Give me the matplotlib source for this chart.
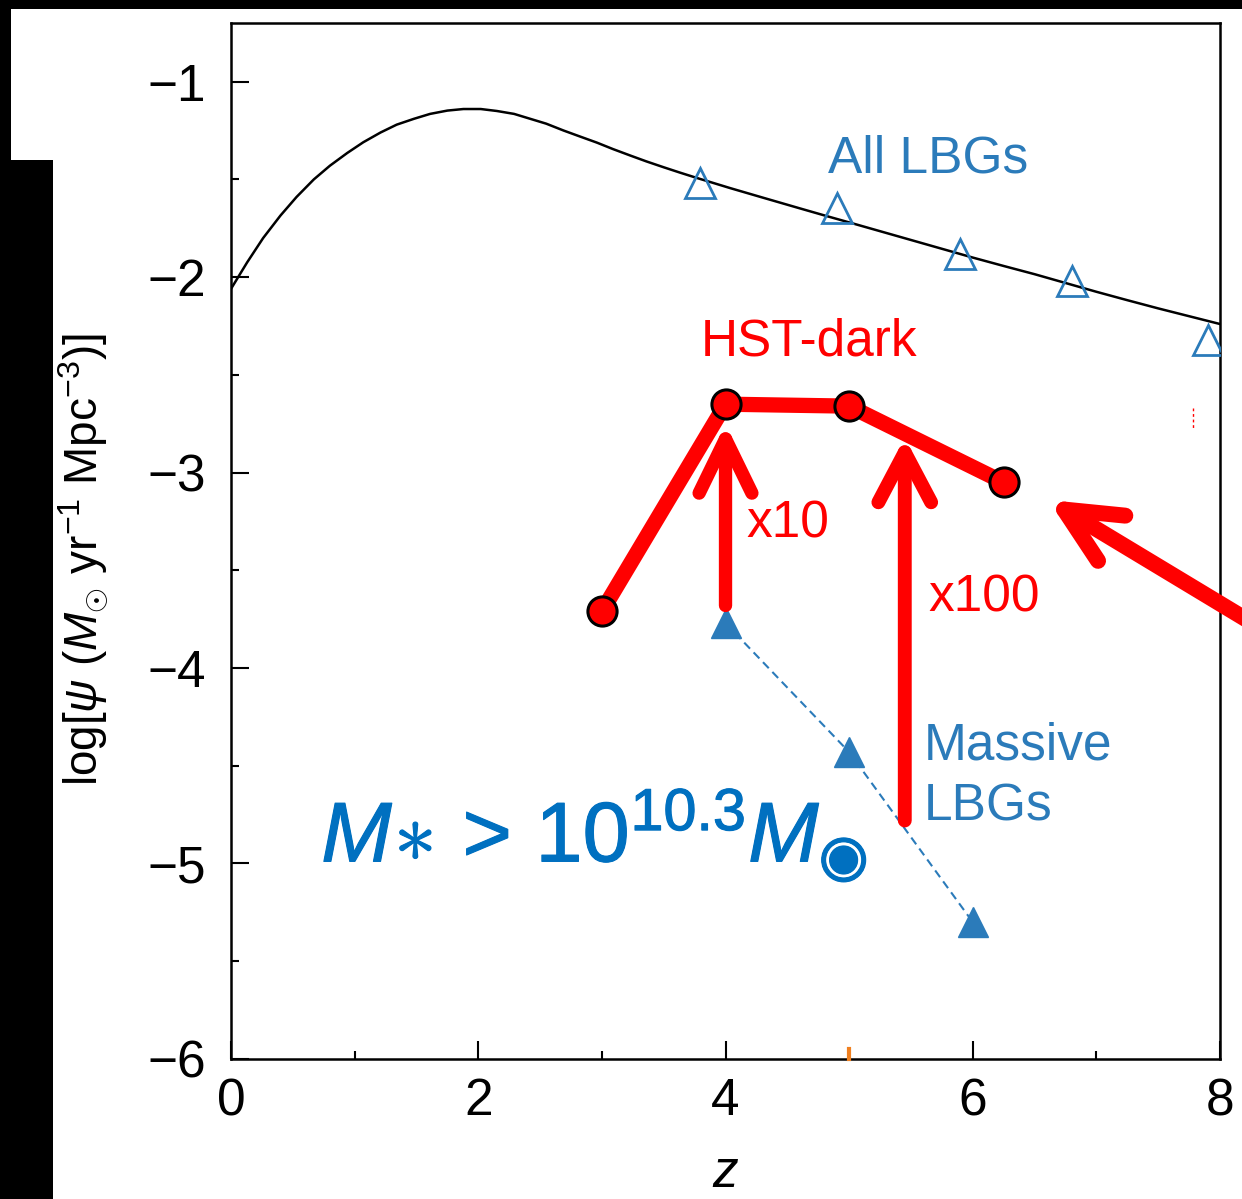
import numpy as np
import matplotlib.pyplot as plt
import matplotlib.patheffects as pe
from matplotlib.patches import Rectangle

plt.rcParams['font.family'] = ['Liberation Sans', 'DejaVu Sans']
plt.rcParams['mathtext.fontset'] = 'custom'
plt.rcParams['mathtext.rm'] = 'Liberation Sans'
plt.rcParams['mathtext.it'] = 'Liberation Sans:italic'
plt.rcParams['mathtext.bf'] = 'Liberation Sans:bold'

# cosmic SFR density curve
sfrd_z = [0.0, 0.13, 0.26, 0.40, 0.53, 0.67, 0.80, 0.94, 1.07, 1.21, 1.34, 1.48, 1.61,
          1.75, 1.88, 2.02, 2.15, 2.29, 2.42, 2.55, 2.69, 2.82, 2.96, 3.09, 3.23, 3.36,
          3.50, 3.63, 3.77, 3.90, 4.04, 4.3, 4.6, 4.82, 5.0, 5.25, 5.5, 5.75, 6.0, 6.25,
          6.5, 6.75, 7.0, 7.25, 7.5, 7.75, 8.0]
sfrd_log = [-2.06, -1.925, -1.80, -1.685, -1.59, -1.50, -1.43, -1.365, -1.31, -1.26, -1.22,
            -1.19, -1.165, -1.148, -1.14, -1.14, -1.15, -1.165, -1.19, -1.215, -1.25, -1.28,
            -1.312, -1.345, -1.378, -1.408, -1.438, -1.465, -1.493, -1.518, -1.545, -1.593,
            -1.648, -1.688, -1.72, -1.765, -1.81, -1.855, -1.90, -1.943, -1.985, -2.03,
            -2.075, -2.118, -2.16, -2.20, -2.24]

# all LBGs
lbg_z = [3.79, 4.90, 5.90, 6.80, 7.90]
lbg_log = [-1.52, -1.645, -1.88, -2.02, -2.32]

# massive LBGs
mlbg_z = [4.0, 5.0, 6.0]
mlbg_log = [-3.77, -4.43, -5.30]

# HST-dark galaxies
dark_z = [3.0, 4.0, 5.0, 6.25]
dark_log = [-3.71, -2.65, -2.66, -3.05]

# arrows: (tail, tip)
arrow_x10 = [(4.0, -3.68), (4.0, -2.75)]
arrow_x100 = [(5.45, -4.78), (5.45, -2.82)]
arrow_side = [(8.55, -3.88), (6.61, -3.14)]

BLUE = '#2b7bba'
DARK_BLUE = '#0070c0'
RED = '#ff0000'

fig = plt.figure(figsize=(12.42, 11.99), dpi=100)
ax = fig.add_axes([0.186, 0.1168, 0.7963, 0.864])

ax.plot(sfrd_z, sfrd_log, color='black', lw=1.8, zorder=2)
ax.plot(lbg_z, lbg_log, ls='none', marker='^', ms=22, mfc='none', mec=BLUE, mew=2, zorder=3)
ax.plot(mlbg_z, mlbg_log, ls=(0, (4, 2.5)), lw=1.5, color=BLUE, marker='^', ms=22,
        mfc=BLUE, mec=BLUE, zorder=3)

for (tail, tip), lw, hl, hw in [(arrow_x10, 9.6, 3.9, 1.9), (arrow_x100, 10, 3.6, 1.9),
                                 (arrow_side, 11.5, 4.0, 1.9)]:
    ax.annotate('', xy=tip, xytext=tail, annotation_clip=False,
                arrowprops=dict(arrowstyle=f'->,head_length={hl},head_width={hw}',
                                lw=lw, color=RED, capstyle='round', joinstyle='round',
                                shrinkA=0, shrinkB=0, mutation_scale=10),
                zorder=4)

ax.plot(dark_z, dark_log, color=RED, lw=11, solid_capstyle='round', solid_joinstyle='round',
        marker='o', ms=21, mfc=RED, mec='black', mew=2.2, zorder=5)

# stray marks
ax.plot([7.78, 7.78], [-2.67, -2.77], color=RED, lw=1, ls=(0, (2, 2)), zorder=2)
ax.plot([5.0, 5.0], [-6.0, -5.95], color='#f08020', lw=3, zorder=6, clip_on=False)

ax.text(4.83, -1.466, 'All LBGs', color=BLUE, fontsize=37, va='baseline')
ax.text(3.80, -2.40, 'HST-dark', color=RED, fontsize=37, va='baseline')
ax.text(4.17, -3.33, 'x10', color=RED, fontsize=37, va='baseline')
ax.text(5.64, -3.71, 'x100', color=RED, fontsize=37, va='baseline')
for line, yb in zip(['Massive', 'LBGs'], [-4.47, -4.78]):
    ax.text(5.60, yb, line, color=BLUE, fontsize=37, va='baseline')
ax.text(0.73, -4.99, r'$\mathit{M}\!\ast\!$ > 10$^{10.3}$$\mathit{M}_{◉}$',
        color=DARK_BLUE, fontsize=61, va='baseline',
        path_effects=[pe.withStroke(linewidth=0.8, foreground=DARK_BLUE)])

ax.set_xlim(0, 8)
ax.set_ylim(-6, -0.7)
ax.set_xticks([0, 2, 4, 6, 8])
ax.set_xticks([1, 3, 5, 7], minor=True)
ax.set_yticks([-6, -5, -4, -3, -2, -1])
ax.set_yticks([-5.5, -4.5, -3.5, -2.5, -1.5], minor=True)
ax.tick_params(which='both', direction='in', width=1.5, labelsize=37, top=False, right=False)
ax.tick_params(which='major', length=13)
ax.tick_params(which='minor', length=6)
ax.tick_params(axis='y', pad=18)
ax.tick_params(axis='x', pad=13)
for s in ax.spines.values():
    s.set_linewidth(1.8)

ax.set_xlabel('$z$', fontsize=37)
ax.xaxis.set_label_coords(0.5, -0.087)
ax.set_ylabel(r'log[$\psi$ ($M_{\odot}$ yr$^{-1}$ Mpc$^{-3}$)]', fontsize=33)
ax.yaxis.set_label_coords(-0.122, 0.482)

# dark frame around the panel
for x0, y0, w, h in [(0, 1 - 9 / 1199, 1, 9 / 1199), (0, 0, 11 / 1242, 1),
                     (0, 0, 53 / 1242, 1 - 160 / 1199)]:
    fig.add_artist(Rectangle((x0, y0), w, h, transform=fig.transFigure,
                             facecolor='black', edgecolor='none', zorder=10))

fig.savefig('out.png', dpi=100, facecolor='white')
